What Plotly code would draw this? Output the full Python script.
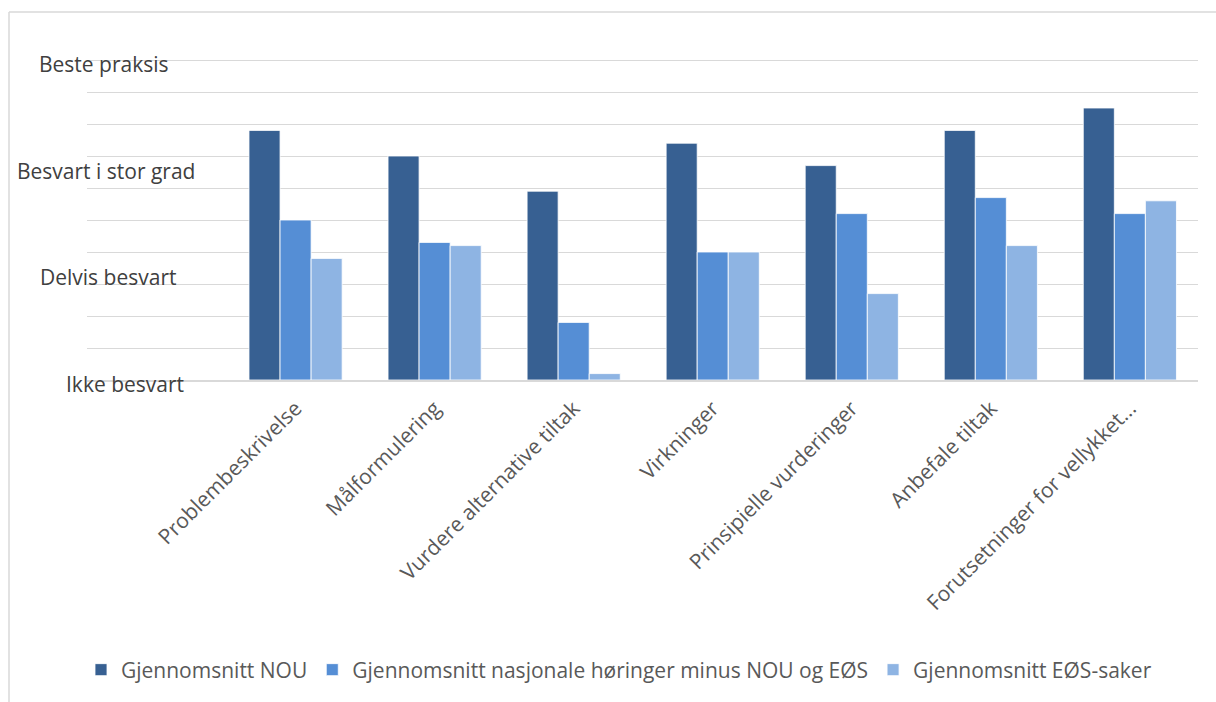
import plotly.graph_objects as go

# Assessment areas along the horizontal axis
categories = [
    "Problembeskrivelse",
    "Målformulering",
    "Vurdere alternative tiltak",
    "Virkninger",
    "Prinsipielle vurderinger",
    "Anbefale tiltak",
    "Forutsetninger for vellykket...",
]

# Average scores (0 = Ikke besvart ... 3 = Beste praksis)
nou = [2.34, 2.10, 1.77, 2.22, 2.01, 2.34, 2.55]
nasjonale = [1.50, 1.29, 0.54, 1.20, 1.56, 1.71, 1.56]
eos = [1.14, 1.26, 0.06, 1.20, 0.81, 1.26, 1.68]

series_names = [
    "Gjennomsnitt NOU",
    "Gjennomsnitt nasjonale høringer minus NOU og EØS",
    "Gjennomsnitt EØS-saker",
]

# Scale labels on the value axis
scale_values = [0, 1, 2, 3]
scale_labels = ["Ikke besvart", "Delvis besvart", "Besvart i stor grad", "Beste praksis"]

colors = ["#376092", "#558ED5", "#8EB4E3"]
FONT = "Open Sans"
FS = 21
W, H = 1216, 702
EXTRA = 8  # pixels of headroom above the top gridline
L, R, T, B = 87, 18, 60 - EXTRA, 322
plot_w = W - L - R
plot_h = H - T - B
Y_TOP = 3.0 + EXTRA * 3.0 / 320


def px_x(px):
    return (px - L) / plot_w


def px_y(py):
    return (H - B - py) / plot_h


fig = go.Figure()
for name, vals, col in zip(series_names, [nou, nasjonale, eos], colors):
    fig.add_trace(go.Bar(
        x=categories, y=vals, name=name,
        marker=dict(color=col, line=dict(color="rgba(255,255,255,0.8)", width=1)),
    ))

# Scale labels, staggered horizontally beside the grid
label_centers = [125, 108, 106, 104]
annotations = []
for v, txt, cx in zip(scale_values, scale_labels, label_centers):
    annotations.append(dict(
        x=px_x(cx), xref="paper", y=v, yref="y", text=txt, showarrow=False,
        xanchor="center", yanchor="middle", yshift=-4,
        font=dict(family=FONT, size=FS, color="#404040"),
    ))

# Chart area frame
shapes = [
    dict(type="line", xref="paper", yref="paper",
         x0=px_x(9), x1=px_x(9), y0=px_y(12), y1=px_y(H + 5),
         line=dict(color="#d9d9d9", width=1.5)),
    dict(type="line", xref="paper", yref="paper",
         x0=px_x(9), x1=px_x(W + 5), y0=px_y(12), y1=px_y(12),
         line=dict(color="#d9d9d9", width=1.5)),
]

fig.update_layout(
    width=W, height=H,
    margin=dict(l=L, r=R, t=T, b=B, pad=0),
    paper_bgcolor="white", plot_bgcolor="white",
    barmode="group", bargap=0.33, bargroupgap=0,
    font=dict(family=FONT, color="#595959"),
    showlegend=True,
    legend=dict(
        orientation="h", x=px_x(619), xanchor="center", y=px_y(670), yanchor="middle",
        font=dict(family=FONT, size=FS, color="#595959"),
        itemwidth=30, traceorder="normal",
    ),
    xaxis=dict(
        type="category", range=[-1.5, 6.49], tickangle=-45,
        showgrid=False, showline=True, linecolor="#d9d9d9", linewidth=1.5,
        ticks="", ticklabelstandoff=6,
        tickfont=dict(family=FONT, size=FS, color="#595959"),
        fixedrange=True,
    ),
    yaxis=dict(
        range=[0, Y_TOP], dtick=0.3, tick0=0, showgrid=True, gridcolor="#d9d9d9",
        gridwidth=1, showticklabels=False, zeroline=False, ticks="",
    ),
    annotations=annotations,
    shapes=shapes,
)

fig.write_html("out.html")
